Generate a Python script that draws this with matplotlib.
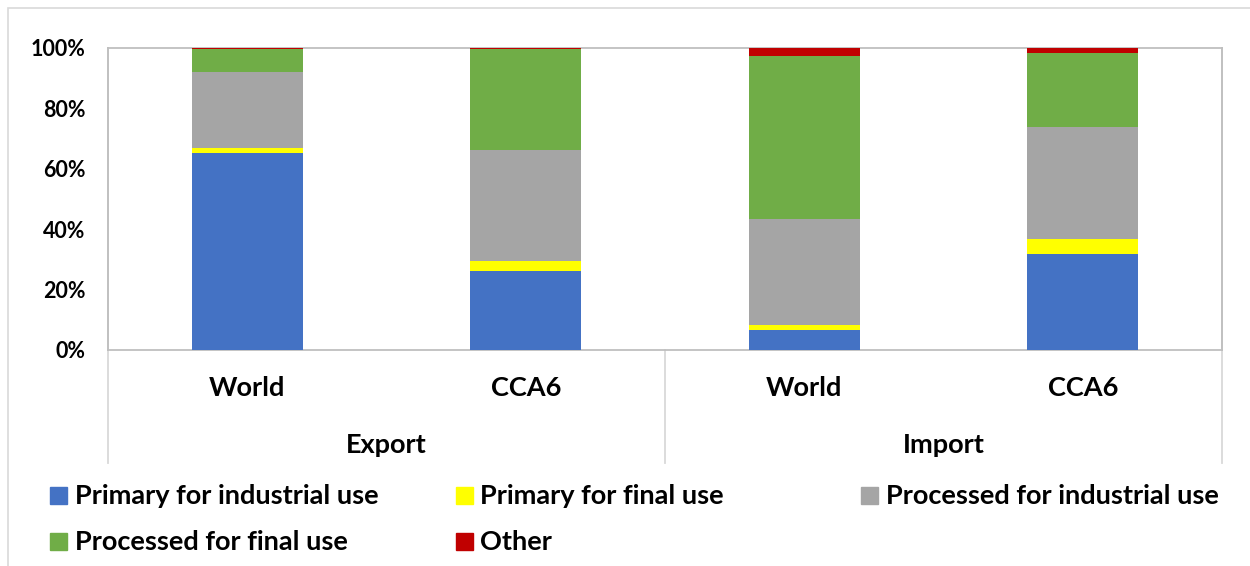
import matplotlib.pyplot as plt
from matplotlib.patches import Rectangle
from matplotlib.lines import Line2D
import numpy as np

# Data: share of each product category (%), per flow and partner
groups = ["Export", "Import"]
partners = ["World", "CCA6", "World", "CCA6"]
series = ["Primary for industrial use", "Primary for final use",
          "Processed for industrial use", "Processed for final use", "Other"]
primary_ind = [65.3, 26.0, 6.7, 31.9]
primary_fin = [1.7, 3.5, 1.6, 4.7]
processed_ind = [24.9, 36.7, 35.0, 37.2]
processed_fin = [7.7, 33.4, 54.0, 24.5]
other = [0.4, 0.4, 2.7, 1.7]
colors = ["#4472C4", "#FFFF00", "#A5A5A5", "#70AD47", "#C00000"]

W, H = 1250, 566
plt.rcParams['font.family'] = ['Lato', 'DejaVu Sans']
plt.rcParams['font.weight'] = 'bold'
FS = 19.5

fig = plt.figure(figsize=(W / 100, H / 100), dpi=100)
fig.patches.append(Rectangle((8 / W, -0.1), 1.2, (H - 8) / H + 0.1,
                             transform=fig.transFigure, fill=False,
                             edgecolor="#D9D9D9", lw=1.2))

x0, x1, y0, y1 = 108, 1222, 48, 350
ax = fig.add_axes([x0 / W, (H - y1) / H, (x1 - x0) / W, (y1 - y0) / H])

x = np.arange(len(partners))
bottom = np.zeros(len(partners))
for vals, c, name in zip([primary_ind, primary_fin, processed_ind, processed_fin, other],
                         colors, series):
    ax.bar(x, vals, 0.4, bottom=bottom, color=c, label=name, zorder=3)
    bottom += np.array(vals)

ax.set_xlim(-0.5, 3.5)
ax.set_ylim(0, 100)
ax.set_yticks(range(0, 101, 20))
ax.set_yticklabels([f"{v}%" for v in range(0, 101, 20)], fontsize=15.5)
ax.tick_params(axis='y', length=0, pad=16)
ax.set_xticks([])
for s in ax.spines.values():
    s.set_color("#BFBFBF")
    s.set_linewidth(1.3)
ax.spines['left'].set_visible(False)

# multi-level category axis
depth = (463 - 350) / (y1 - y0)
for xa in [0, 0.5, 1]:
    ax.add_line(Line2D([xa, xa], [1 if xa != 0.5 else 0, -depth],
                       transform=ax.transAxes, color="#D9D9D9", lw=1.3, clip_on=False))
ax.add_line(Line2D([0, 0], [0, 1], transform=ax.transAxes, color="#BFBFBF", lw=1.3,
                   clip_on=False))
for xi, p in zip(x, partners):
    ax.text(xi, -(388 - 350) / (y1 - y0) * 100, p, ha='center', va='center',
            fontsize=FS, fontweight='bold')
for gi, g in enumerate(groups):
    ax.text(0.5 + 2 * gi, -(445 - 350) / (y1 - y0) * 100, g, ha='center', va='center',
            fontsize=FS, fontweight='bold')

# legend laid out in rows
handles = [(50, 487, 75), (456, 487, 480), (861, 487, 886), (50, 533, 75), (456, 533, 480)]
for (mx, my, tx), c, name in zip(handles, colors, series):
    fig.patches.append(Rectangle((mx / W, 1 - (my + 17) / H), 17 / W, 17 / H,
                                 transform=fig.transFigure, color=c))
    fig.text(tx / W, 1 - (my + 8.5) / H, name, ha='left', va='center',
             fontsize=FS, fontweight='bold')

fig.savefig("out.png", dpi=100)
